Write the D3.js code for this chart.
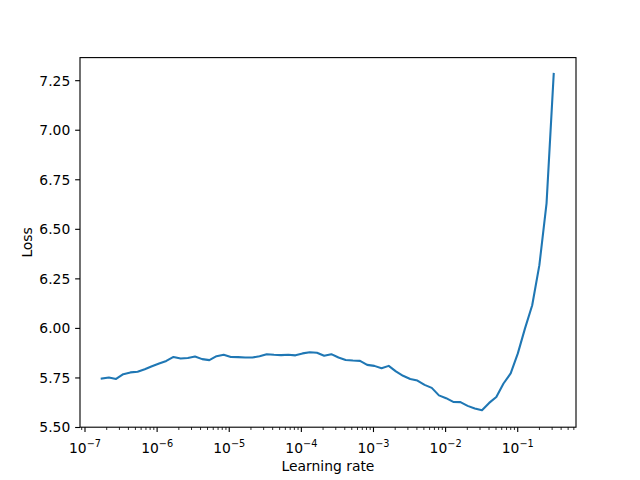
<!DOCTYPE html>
<html>
<head>
<meta charset="utf-8">
<script src="https://cdn.jsdelivr.net/npm/d3@7"></script>
<style>
  html, body { margin: 0; padding: 0; background: #fff; }
  svg { display: block; font-family: "DejaVu Sans", sans-serif; }
</style>
</head>
<body>
<svg id="chart" width="640" height="480"></svg>
<script>
// Learning rates (x) and losses (y)
const learningRates = [
  1.706e-7, 2.145e-7, 2.698e-7, 3.392e-7, 4.265e-7, 5.363e-7, 6.743e-7, 8.479e-7,
  1.066e-6, 1.341e-6, 1.686e-6, 2.120e-6, 2.666e-6, 3.352e-6, 4.214e-6, 5.299e-6,
  6.663e-6, 8.378e-6, 1.053e-5, 1.325e-5, 1.666e-5, 2.095e-5, 2.634e-5, 3.311e-5,
  4.164e-5, 5.236e-5, 6.583e-5, 8.279e-5, 1.041e-4, 1.309e-4, 1.646e-4, 2.070e-4,
  2.602e-4, 3.272e-4, 4.114e-4, 5.173e-4, 6.505e-4, 8.180e-4, 1.028e-3, 1.293e-3,
  1.626e-3, 2.045e-3, 2.571e-3, 3.233e-3, 4.065e-3, 5.112e-3, 6.429e-3, 8.083e-3,
  1.016e-2, 1.278e-2, 1.607e-2, 2.021e-2, 2.541e-2, 3.195e-2, 4.018e-2, 5.051e-2,
  6.352e-2, 7.986e-2, 0.1004, 0.1262, 0.1588, 0.1996, 0.2510, 0.3156
];
const losses = [
  5.747, 5.752, 5.745, 5.769, 5.778, 5.781, 5.794, 5.809,
  5.823, 5.836, 5.856, 5.848, 5.851, 5.858, 5.845, 5.840,
  5.860, 5.867, 5.856, 5.855, 5.853, 5.853, 5.860, 5.870,
  5.867, 5.865, 5.867, 5.864, 5.874, 5.880, 5.877, 5.862,
  5.870, 5.853, 5.841, 5.838, 5.836, 5.816, 5.811, 5.799,
  5.811, 5.783, 5.761, 5.745, 5.737, 5.715, 5.700, 5.662,
  5.648, 5.629, 5.628, 5.609, 5.596, 5.587, 5.624, 5.654,
  5.722, 5.773, 5.874, 6.000, 6.117, 6.319, 6.631, 7.284
];
const yTicks = [5.50, 5.75, 6.00, 6.25, 6.50, 6.75, 7.00, 7.25];
const xTickExponents = [-7, -6, -5, -4, -3, -2, -1];
const xLabel = "Learning rate";
const yLabel = "Loss";

const data = learningRates.map((lr, i) => ({ lr, loss: losses[i] }));

const margin = { left: 80, right: 576, top: 57.6, bottom: 427.2 };
const svg = d3.select("#chart");

const x = d3.scaleLog()
  .domain([Math.pow(10, -7.0693), Math.pow(10, -0.1919)])
  .range([margin.left, margin.right]);
const y = d3.scaleLinear()
  .domain([5.5015, 7.3665])
  .range([margin.bottom, margin.top]);

const fontSize = 13.89;
const majorLen = 4.86, minorLen = 2.78, pad = 4.86;

// Line
svg.append("path")
  .datum(data)
  .attr("fill", "none")
  .attr("stroke", "#1f77b4")
  .attr("stroke-width", 2.08)
  .attr("stroke-linejoin", "round")
  .attr("stroke-linecap", "square")
  .attr("d", d3.line().x(d => x(d.lr)).y(d => y(d.loss)));

// Spines
svg.append("rect")
  .attr("x", margin.left).attr("y", margin.top)
  .attr("width", margin.right - margin.left)
  .attr("height", margin.bottom - margin.top)
  .attr("fill", "none").attr("stroke", "#000").attr("stroke-width", 1.11);

// Y axis ticks
const yg = svg.append("g");
yTicks.forEach(t => {
  const py = y(t);
  yg.append("line")
    .attr("x1", margin.left).attr("x2", margin.left - majorLen)
    .attr("y1", py).attr("y2", py)
    .attr("stroke", "#000").attr("stroke-width", 1.11);
  yg.append("text")
    .attr("x", margin.left - majorLen - pad)
    .attr("y", py)
    .attr("dy", "0.36em")
    .attr("text-anchor", "end")
    .attr("font-size", fontSize)
    .attr("fill", "#000")
    .text(d3.format(".2f")(t));
});

// X axis major ticks
const xg = svg.append("g");
const [d0, d1] = x.domain();
xTickExponents.forEach(e => {
  const v = Math.pow(10, e);
  const px = x(v);
  xg.append("line")
    .attr("x1", px).attr("x2", px)
    .attr("y1", margin.bottom).attr("y2", margin.bottom + majorLen)
    .attr("stroke", "#000").attr("stroke-width", 1.11);
  const t = xg.append("text")
    .attr("x", px)
    .attr("y", 453)
    .attr("text-anchor", "middle")
    .attr("font-size", fontSize)
    .attr("fill", "#000");
  t.append("tspan").text("10");
  t.append("tspan")
    .attr("font-size", fontSize * 0.7)
    .attr("dy", -6.3)
    .text("\u2212" + Math.abs(e));
});
// Minor ticks
for (let e = -8; e <= 0; e++) {
  for (let m = 2; m <= 9; m++) {
    const v = m * Math.pow(10, e);
    if (v < d0 || v > d1) continue;
    const px = x(v);
    xg.append("line")
      .attr("x1", px).attr("x2", px)
      .attr("y1", margin.bottom).attr("y2", margin.bottom + minorLen)
      .attr("stroke", "#000").attr("stroke-width", 0.83);
  }
}

// Axis labels
svg.append("text")
  .attr("x", (margin.left + margin.right) / 2)
  .attr("y", 470.5)
  .attr("text-anchor", "middle")
  .attr("font-size", fontSize)
  .attr("fill", "#000")
  .text(xLabel);

svg.append("text")
  .attr("transform", `translate(31.5, ${(margin.top + margin.bottom) / 2}) rotate(-90)`)
  .attr("text-anchor", "middle")
  .attr("font-size", fontSize)
  .attr("fill", "#000")
  .text(yLabel);
</script>
</body>
</html>
